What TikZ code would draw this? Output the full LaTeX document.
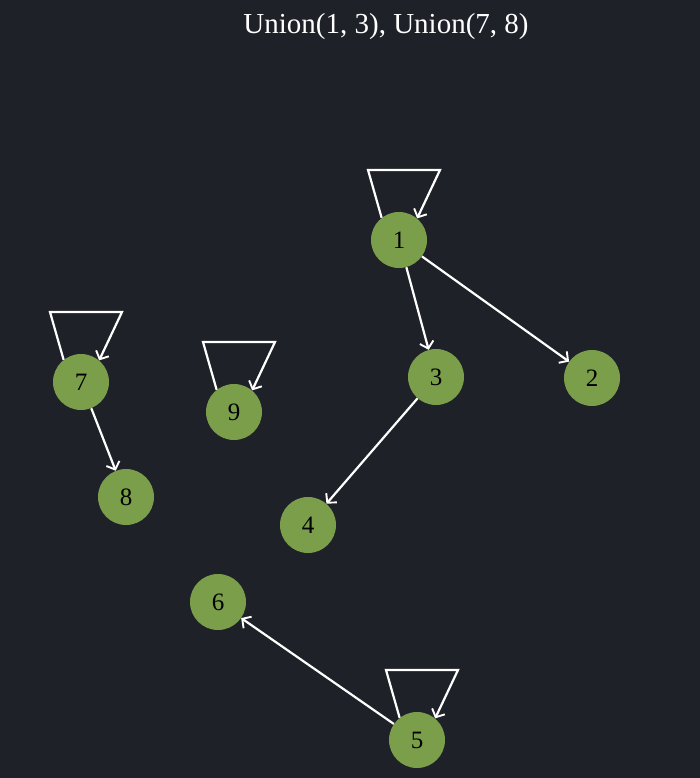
\documentclass[tikz,border=0pt]{standalone}
\usepackage{fontspec}
\setmainfont{Liberation Serif}
\usetikzlibrary{arrows.meta}
\definecolor{bgc}{RGB}{30,33,40}
\definecolor{nodegreen}{RGB}{122,158,74}
\begin{document}
\begin{tikzpicture}[x=1pt,y=-1pt,
  vtx/.style={circle,fill=nodegreen,minimum size=56pt,inner sep=0pt,font=\fontsize{25}{28}\selectfont,text=black},
  edge/.style={draw=white,line width=2.2pt,-{Straight Barb[length=6.5pt,width=14pt,line width=1.9pt]}},
]
\fill[bgc] (0,0) rectangle (700,778);
\useasboundingbox (0,0) rectangle (700,778);
\node[text=white,font=\fontsize{29}{32}\selectfont] (title) at (386,27) {Union(1, 3), Union(7, 8)};
\node[vtx] (n1) at (399,240) {1};
\node[vtx] (n2) at (592,378) {2};
\node[vtx] (n3) at (436,377) {3};
\node[vtx] (n4) at (308,525) {4};
\node[vtx] (n5) at (417,740) {5};
\node[vtx] (n6) at (218,602) {6};
\node[vtx] (n7) at (81,382) {7};
\node[vtx] (n8) at (126,497) {8};
\node[vtx] (n9) at (234,412) {9};
\foreach \n in {n1,n5,n7,n9}{
  \coordinate (\n tl) at ([xshift=-31pt,yshift=70pt]\n.center);
  \coordinate (\n tr) at ([xshift=41pt,yshift=70pt]\n.center);
  \draw[edge] (\n.128) -- (\n tl) -- (\n tr) -- (\n.50);
}
\draw[edge] (n1) -- (n3);
\draw[edge] (n1) -- (n2);
\draw[edge] (n3) -- (n4);
\draw[edge] (n7) -- (n8);
\draw[edge] (n5) -- (n6);
\end{tikzpicture}
\end{document}
